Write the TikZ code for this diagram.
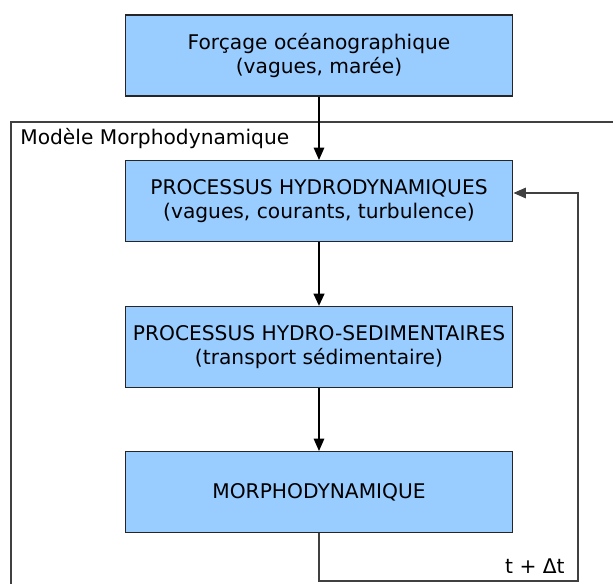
\documentclass[tikz,border=0pt]{standalone}
\usepackage{fontspec}
\setmainfont{DejaVu Sans}
\usepackage{tikz}
\usetikzlibrary{positioning,calc,arrows.meta}
\definecolor{boxBlue}{RGB}{153, 204, 255}

\begin{document}
\begin{tikzpicture}[x=0.02cm,y=-0.02cm,
                proc/.style={fill=boxBlue,draw=black!85,line width=0.6pt,align=center,
                            font=\fontsize{11.5}{13.8}\selectfont,inner sep=0pt,
                            minimum width=7.76cm,minimum height=1.62cm},
                flow/.style={-{Triangle[length=7pt,width=6pt]},line width=0.6pt},
                loop/.style={draw=black!75,line width=0.6pt}
            ]
                \useasboundingbox (0,0) rectangle (613,584);
                \draw[loop] (11,584) -- (11,122) -- (613,122);
                \node[anchor=west,font=\fontsize{11.5}{13.8}\selectfont,inner sep=0pt] (modele) at (20,139) {Modèle Morphodynamique};
                \node[proc] (forcage) at (319,55.5) {Forçage océanographique\\(vagues, marée)};
                \node[proc] (hydro) at (319,201) {PROCESSUS HYDRODYNAMIQUES\\(vagues, courants, turbulence)};
                \node[proc] (sedim) at (319,347) {PROCESSUS HYDRO-SEDIMENTAIRES\\(transport sédimentaire)};
                \node[proc] (morpho) at (319,492) {MORPHODYNAMIQUE};
                \coordinate (bas) at (319,581);
                \coordinate (coin) at (578,581);
                \coordinate (haut) at (578,193);
                \draw[flow] (forcage) -- (hydro);
                \draw[flow,line width=1.4pt] (hydro) -- (sedim);
                \draw[flow] (sedim) -- (morpho);
                \draw[loop,-{Triangle[length=7pt,width=6pt]}] (morpho.south) -- (bas) -- (coin) -- (haut) -- (hydro.east |- haut);
                \node[anchor=south east,font=\fontsize{11.5}{13.8}\selectfont,inner sep=0pt] (pas) at (565,574) {t + Δt};
            \end{tikzpicture}
\end{document}
